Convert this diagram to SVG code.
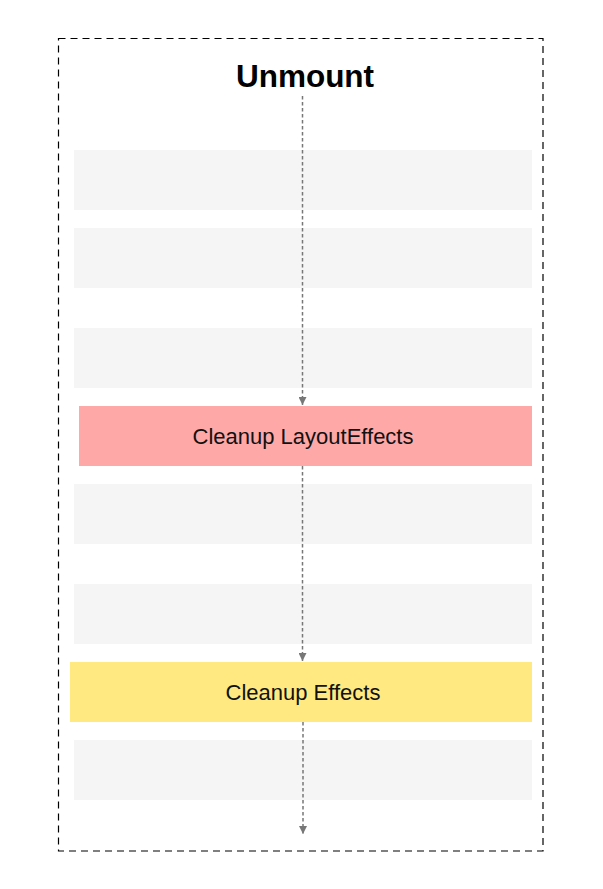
<svg xmlns="http://www.w3.org/2000/svg" width="603" height="889" viewBox="0 0 603 889">
<defs>
<style>
.lane{fill:#f5f5f5}
.lbl{font-family:"Liberation Sans",Arial,sans-serif;font-size:22px;fill:#111;text-anchor:middle}
.conn{stroke:#777;stroke-width:1.5;stroke-dasharray:3.5 2.5;fill:none}
</style>
<marker id="arr" viewBox="0 0 10 10" refX="10" refY="5" markerWidth="8" markerHeight="8" markerUnits="userSpaceOnUse" orient="auto">
<path d="M0,0 L10,5 L0,10 Z" fill="#777"/>
</marker>
</defs>
<rect width="603" height="889" fill="#fff"/>
<rect x="58.5" y="38.5" width="484.5" height="812.5" fill="none" stroke="#000" stroke-width="1.2" stroke-dasharray="7 5"/>
<text x="305" y="87" font-family="'Liberation Sans',Arial,sans-serif" font-weight="bold" font-size="31.5" text-anchor="middle" fill="#000">Unmount</text>
<g id="lanes">
<rect class="lane" x="74" y="150" width="458" height="60"/>
<rect class="lane" x="74" y="228" width="458" height="60"/>
<rect class="lane" x="74" y="328" width="458" height="60"/>
<rect class="lane" x="74" y="484" width="458" height="60"/>
<rect class="lane" x="74" y="584" width="458" height="60"/>
<rect class="lane" x="74" y="740" width="458" height="60"/>
</g>
<g id="cleanup-layout-effects">
<rect x="79" y="406" width="453" height="60" fill="#ffa8a8"/>
<text class="lbl" x="303" y="443.5">Cleanup LayoutEffects</text>
</g>
<g id="cleanup-effects">
<rect x="70" y="662" width="462" height="60" fill="#ffe980"/>
<text class="lbl" x="303" y="699.5">Cleanup Effects</text>
</g>
<g id="connectors">
<line class="conn" x1="302.5" y1="96" x2="302.5" y2="405" marker-end="url(#arr)"/>
<line class="conn" x1="302.5" y1="466" x2="302.5" y2="661" marker-end="url(#arr)"/>
<line class="conn" x1="303" y1="722" x2="303" y2="834" marker-end="url(#arr)"/>
</g>
</svg>
